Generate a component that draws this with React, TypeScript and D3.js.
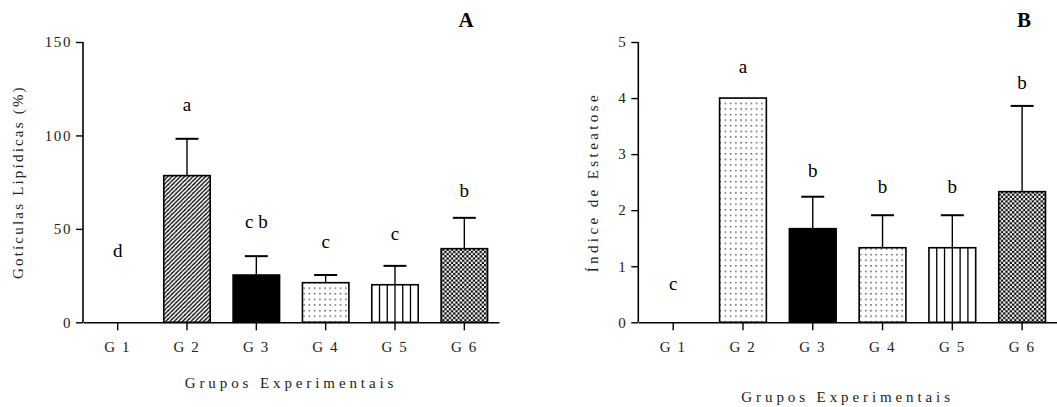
import React, { useRef, useEffect } from 'react';
import * as d3 from 'd3';

const groups = ['G 1', 'G 2', 'G 3', 'G 4', 'G 5', 'G 6'];

// Panel A: Gotículas Lipídicas (%)
const lipidMean = [0, 78.5, 25.3, 21.2, 20.1, 39.4];
const lipidErr = [0, 19.7, 10.1, 4.1, 10.1, 16.5];
const lipidLetters = ['d', 'a', 'c b', 'c', 'c', 'b'];
const lipidLetterY = [35.2, 113.2, 50.7, 39.6, 44.1, 67.3];
const lipidTicks = [0, 50, 100, 150];
const lipidFills = ['none', 'hatch', 'solid', 'dots', 'vlines', 'checker'];

// Panel B: Índice de Esteatose
const steatMean = [0, 4.0, 1.67, 1.33, 1.33, 2.33];
const steatErr = [0, 0, 0.57, 0.58, 0.58, 1.53];
const steatLetters = ['c', 'a', 'b', 'b', 'b', 'b'];
const steatLetterY = [0.58, 4.44, 2.6, 2.3, 2.3, 4.17];
const steatTicks = [0, 1, 2, 3, 4, 5];
const steatFills = ['none', 'dots', 'solid', 'dots', 'vlines', 'checker'];

const FONT = 'Liberation Serif, Times New Roman, serif';

interface PanelOpts {
  title: string;
  yLabel: string;
  yLabelSpacing: number;
  means: number[];
  errs: number[];
  letters: string[];
  letterY: number[];
  ticks: number[];
  fills: string[];
  x0: number;
  x1: number;
  yLabelX: number;
  xTitleY: number;
}

function drawPanel(svg: d3.Selection<SVGSVGElement, unknown, null, undefined>, o: PanelOpts) {
  const yBase = 322.3;
  const yTop = 42;
  const g = svg.append('g').attr('font-family', FONT);

  const x = d3.scaleBand<string>().domain(groups).range([o.x0, o.x1]).paddingInner(0.33).paddingOuter(0.165);
  const y = d3.scaleLinear().domain([0, o.ticks[o.ticks.length - 1]]).range([yBase, yTop]);
  const xc = (d: string) => (x(d) ?? 0) + x.bandwidth() / 2;
  const bw = x.bandwidth();

  // bars
  groups.forEach((grp, i) => {
    const v = o.means[i];
    if (v <= 0) return;
    const bx = x(grp) ?? 0;
    const by = y(v);
    const h = yBase - by;
    const f = o.fills[i];
    const fill = f === 'solid' ? '#000' : f === 'vlines' ? '#fff' : `url(#${f})`;
    g.append('rect')
      .attr('x', bx).attr('y', by).attr('width', bw).attr('height', h)
      .attr('fill', fill).attr('stroke', '#000').attr('stroke-width', 1.6);
    if (f === 'vlines') {
      for (let k = 1; k < 6; k++) {
        g.append('line')
          .attr('x1', bx + (bw * k) / 6).attr('x2', bx + (bw * k) / 6)
          .attr('y1', by).attr('y2', yBase)
          .attr('stroke', '#000').attr('stroke-width', 1.3);
      }
    }
    // error bar (upper only)
    const e = o.errs[i];
    if (e > 0) {
      const ey = y(v + e);
      g.append('line').attr('x1', xc(grp)).attr('x2', xc(grp)).attr('y1', by).attr('y2', ey)
        .attr('stroke', '#000').attr('stroke-width', 1.4);
      g.append('line').attr('x1', xc(grp) - 11.5).attr('x2', xc(grp) + 11.5).attr('y1', ey).attr('y2', ey)
        .attr('stroke', '#000').attr('stroke-width', 2);
    }
  });

  // letters
  groups.forEach((grp, i) => {
    g.append('text')
      .attr('x', xc(grp)).attr('y', y(o.letterY[i]))
      .attr('text-anchor', 'middle')
      .attr('font-family', FONT).attr('font-size', 19)
      .text(o.letters[i]);
  });

  // y axis
  const yAxis = g.append('g')
    .attr('transform', `translate(${o.x0},0)`)
    .call(d3.axisLeft(y).tickValues(o.ticks).tickSize(7).tickPadding(4).tickFormat(d3.format('d')));
  yAxis.select('.domain').attr('d', `M0,${yBase}V${yTop}`);

  // x axis
  const xAxis = g.append('g')
    .attr('transform', `translate(0,${yBase})`)
    .call(d3.axisBottom(x).tickSize(8).tickPadding(11).tickSizeOuter(0));

  [yAxis, xAxis].forEach(ax => {
    ax.attr('font-family', FONT).attr('font-size', 15);
    ax.selectAll('.domain').attr('stroke', '#000').attr('stroke-width', 1.6);
    ax.selectAll('.tick line').attr('stroke', '#000').attr('stroke-width', 1.4);
    ax.selectAll('.tick text').attr('fill', '#222').style('letter-spacing', '1.6px');
  });

  // titles
  g.append('text')
    .attr('x', o.x1 - 33).attr('y', 27).attr('text-anchor', 'middle')
    .attr('font-size', 21).attr('font-weight', 'bold')
    .text(o.title);
  g.append('text')
    .attr('transform', `translate(${o.yLabelX},${(yBase + yTop) / 2}) rotate(-90)`)
    .attr('text-anchor', 'middle').attr('dominant-baseline', 'middle')
    .attr('fill', '#222').attr('font-size', 15)
    .style('letter-spacing', `${o.yLabelSpacing}px`)
    .text(o.yLabel);
  g.append('text')
    .attr('x', (o.x0 + o.x1) / 2).attr('y', o.xTitleY).attr('text-anchor', 'middle')
    .attr('fill', '#222').attr('font-size', 15)
    .style('letter-spacing', '3.9px')
    .text('Grupos Experimentais');
}

export default function App() {
  const ref = useRef<SVGSVGElement | null>(null);

  useEffect(() => {
    if (!ref.current) return;
    document.body.style.margin = '0';
    const svg = d3.select(ref.current);
    svg.selectAll('*').remove();

    const defs = svg.append('defs');
    const hatch = defs.append('pattern').attr('id', 'hatch').attr('patternUnits', 'userSpaceOnUse')
      .attr('width', 4.2).attr('height', 4.2);
    hatch.append('rect').attr('width', 4.2).attr('height', 4.2).attr('fill', '#fff');
    hatch.append('path').attr('d', 'M-1,1.1 L1.1,-1 M0,4.2 L4.2,0 M3.1,5.2 L5.2,3.1')
      .attr('stroke', '#000').attr('stroke-width', 1.3);

    const dots = defs.append('pattern').attr('id', 'dots').attr('patternUnits', 'userSpaceOnUse')
      .attr('width', 5.2).attr('height', 5.6);
    dots.append('rect').attr('width', 5.2).attr('height', 5.6).attr('fill', '#fff');
    dots.append('rect').attr('x', 2).attr('y', 2).attr('width', 1.2).attr('height', 1.2).attr('fill', '#000');

    const checker = defs.append('pattern').attr('id', 'checker').attr('patternUnits', 'userSpaceOnUse')
      .attr('width', 4.4).attr('height', 4.4);
    checker.append('rect').attr('width', 4.4).attr('height', 4.4).attr('fill', '#fff');
    checker.append('rect').attr('width', 2.2).attr('height', 2.2).attr('fill', '#000');
    checker.append('rect').attr('x', 2.2).attr('y', 2.2).attr('width', 2.2).attr('height', 2.2).attr('fill', '#000');

    drawPanel(svg, {
      title: 'A', yLabel: 'Gotículas Lipídicas (%)', yLabelSpacing: 2.2,
      means: lipidMean, errs: lipidErr, letters: lipidLetters, letterY: lipidLetterY,
      ticks: lipidTicks, fills: lipidFills, x0: 83, x1: 499, yLabelX: 20, xTitleY: 388,
    });
    drawPanel(svg, {
      title: 'B', yLabel: 'Índice de Esteatose', yLabelSpacing: 3.4,
      means: steatMean, errs: steatErr, letters: steatLetters, letterY: steatLetterY,
      ticks: steatTicks, fills: steatFills, x0: 638.3, x1: 1057, yLabelX: 595, xTitleY: 402,
    });
  }, []);

  return (
    <svg ref={ref} width={1057} height={407} style={{ display: 'block', background: '#fff' }} />
  );
}
